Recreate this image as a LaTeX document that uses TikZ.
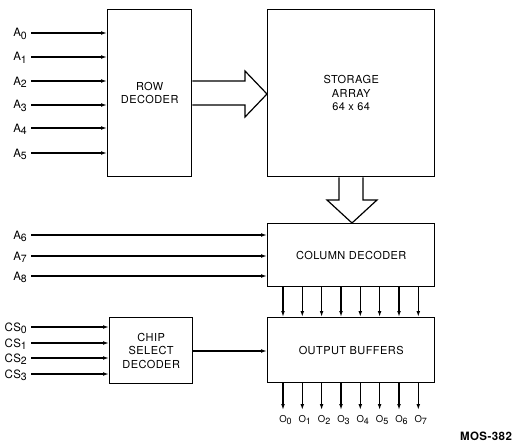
\documentclass[tikz,border=0pt]{standalone}
\usepackage{fontspec}
\setmainfont{TeX Gyre Heros}[LetterSpace=4]
\usetikzlibrary{arrows.meta}
\newcommand{\lsub}[1]{\raisebox{-2.6pt}{\fontsize{10.5}{10}\selectfont #1}}
\newcommand{\osub}[1]{\raisebox{-2pt}{\fontsize{9}{9}\selectfont #1}}
\begin{document}
\begin{tikzpicture}[x=1pt,y=-1pt,
  box/.style={draw, line width=1.4pt, inner sep=0pt, anchor=north west,
    font=\fontsize{11}{13.5}\selectfont, align=center},
  sig/.style={line width=1.2pt, -{Latex[length=6pt,width=3.8pt]}},
  lbl/.style={font=\fontsize{11.5}{12}\selectfont, anchor=east, inner sep=1pt,
    text height=8pt, text depth=0pt},
  olbl/.style={font=\fontsize{9.5}{10}\selectfont, inner sep=0.5pt, anchor=north},
  hollow/.style={draw, line width=1.2pt, fill=white, line join=miter},
]
\useasboundingbox (0,0) rectangle (517,444);

% boxes
\node[box, minimum width=84pt, minimum height=167pt] (row) at (107,9) {ROW\\DECODER};
\node[box, minimum width=167pt, minimum height=167pt] (arr) at (267,9) {STORAGE\\ARRAY\\64 x 64};
\node[box, minimum width=167pt, minimum height=63pt] (col) at (267,223) {COLUMN DECODER};
\node[box, minimum width=167pt, minimum height=65pt] (out) at (267,317) {OUTPUT BUFFERS};
\node[box, minimum width=83pt, minimum height=66pt] (cs) at (109,317) {CHIP\\SELECT\\DECODER};

% row address inputs
\foreach \i/\y in {0/33,1/57,2/81,3/105,4/128,5/153}{
  \node[lbl] (la\i) at (28,\y) {A\lsub{\i}};
  \draw[sig] (la\i.east) ++(3,0) -- (la\i.east -| row.west);
}
% column address inputs
\foreach \i/\y in {6/235,7/256,8/276}{
  \node[lbl] (la\i) at (28,\y) {A\lsub{\i}};
  \draw[sig] (la\i.east) ++(3,0) -- (la\i.east -| col.west);
}
% chip select inputs
\foreach \i/\y in {0/327,1/343,2/358,3/374}{
  \node[lbl] (lcs\i) at (28,\y) {CS\lsub{\i}};
  \draw[sig] (lcs\i.east) ++(3,0) -- (lcs\i.east -| cs.west);
}
\draw[sig] (cs.east |- 0,351) -- (out.west |- 0,351);

% hollow arrow row -> array
\draw[hollow] (row.east |- 0,81) -- (245,81) -- (245,71) -- (arr.west |- 0,94)
  -- (245,117) -- (245,105) -- (row.east |- 0,105);
% hollow arrow array -> column
\draw[hollow] (339,0 |- arr.south) -- (339,200) -- (327,200) -- (352,0 |- col.north)
  -- (377,200) -- (363,200) -- (363,0 |- arr.south);

% column decoder -> output buffers, outputs
\foreach \x [count=\k from 0] in {283,302.3,321.6,341,360.3,379.6,399,418.3}{
  \draw[sig] (\x,0 |- col.south) -- (\x,0 |- out.north);
  \coordinate (o\k) at (\x,410);
  \draw[sig] (\x,0 |- out.south) -- (o\k);
  \node[olbl] (ol\k) at ([xshift=2.5pt,yshift=-5pt]o\k) {O\osub{\k}};
}

\node[font=\bfseries\fontsize{11.5}{12}\selectfont] (mos) at (486,436) {MOS-382};
\end{tikzpicture}
\end{document}
